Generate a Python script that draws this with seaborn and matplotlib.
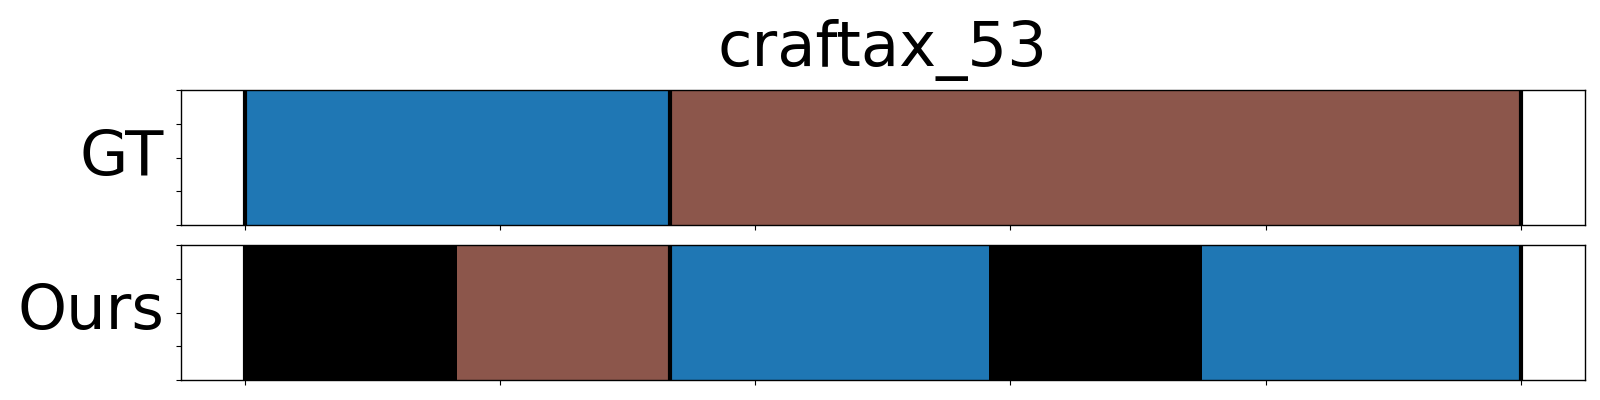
import numpy as np
import matplotlib
matplotlib.use('Agg')
import matplotlib.pyplot as plt
from matplotlib.colors import ListedColormap
import seaborn as sns

# ================================================
# Data - per-frame action labels (12 frames)
# ================================================
title = 'craftax_53'
row_names = ['GT', 'Ours']
class_colors = ['#000000', '#1f77b4', '#8c564b']   # 0 = black, 1 = blue, 2 = brown

gt_labels = [1, 1, 1, 1, 2, 2, 2, 2, 2, 2, 2, 2]
ours_labels = [0, 0, 2, 2, 1, 1, 1, 0, 0, 1, 1, 1]

n_frames = len(gt_labels)

# segment boundaries of the ground truth (start, change points, end)
gt_bounds = [0] + [i for i in range(1, n_frames) if gt_labels[i] != gt_labels[i - 1]] + [n_frames]

# ================================================
# Figure
# ================================================
fig = plt.figure(figsize=(16, 4), dpi=100)
ax1 = fig.add_axes([0.113, 0.4375, 0.8775, 0.3375])
ax2 = fig.add_axes([0.113, 0.05, 0.8775, 0.3375])

cmap = ListedColormap(class_colors)

for ax, labels, name in zip([ax1, ax2], [gt_labels, ours_labels], row_names):
    sns.heatmap(
        np.array([labels]),
        ax=ax,
        cmap=cmap,
        vmin=-0.5,
        vmax=len(class_colors) - 0.5,
        cbar=False,
        xticklabels=False,
        yticklabels=False,
    )
    for b in gt_bounds:
        ax.axvline(b, color='black', linewidth=3)

    for spine in ax.spines.values():
        spine.set_visible(True)
        spine.set_color('black')
        spine.set_linewidth(1.0)

    ax.set_xlim(-0.05 * n_frames, 1.05 * n_frames)
    ax.set_ylim(1, 0)
    ax.set_xticks(np.linspace(0, n_frames, 6))
    ax.set_yticks(np.linspace(0, 1, 5))
    ax.set_xticklabels([])
    ax.set_yticklabels([])
    ax.tick_params(left=True, bottom=True, length=3.5, width=0.8, color='black')
    ax.set_ylabel(name, fontsize=45, rotation=0, ha='right', va='center', labelpad=5)
    ax.set_xlabel('')

ax1.set_title(title, fontsize=45, pad=17)

plt.savefig('out.png', dpi=100)
print("Chart saved.")
